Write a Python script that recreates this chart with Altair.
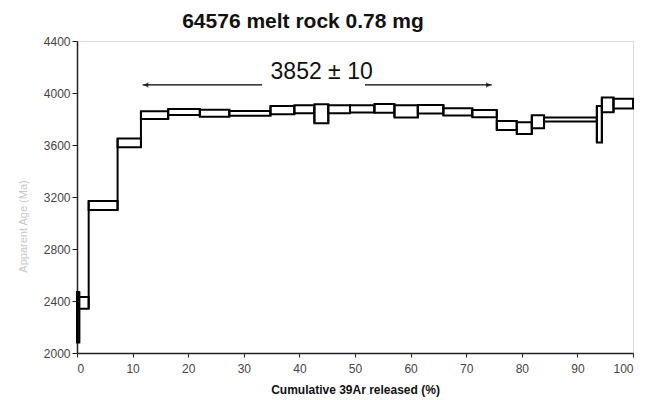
import altair as alt
import pandas as pd

# Step boundaries (cumulative % 39Ar released)
bounds = [0, 0.4, 2.1, 7.3, 11.5, 16.4, 22.1, 27.4, 34.8, 39.1, 42.7, 45.2, 49.1,
          53.5, 57.1, 61.3, 65.9, 71.1, 75.5, 79.1, 81.8, 84.0, 93.5, 94.4, 96.5, 100]
# Age box lower / upper limits (Ma)
age_lo = [2080, 2340, 3100, 3582, 3800, 3830, 3818, 3825, 3836, 3845, 3767, 3845, 3850,
          3848, 3812, 3842, 3826, 3813, 3715, 3685, 3728, 3780, 3620, 3852, 3880]
age_hi = [2470, 2430, 3170, 3650, 3860, 3877, 3872, 3862, 3900, 3905, 3913, 3905, 3905,
          3915, 3905, 3908, 3882, 3869, 3785, 3775, 3828, 3812, 3900, 3965, 3955]

plateau_label = "3852 ± 10"
arrow_left = [11.8, 33.3]
arrow_right = [51.8, 74.6]
arrow_age = 4062
label_x, label_age = 44.0, 4164

steps = pd.DataFrame({
    "x": bounds[:-1], "x2": bounds[1:], "lo": age_lo, "hi": age_hi,
})
conn = pd.DataFrame({
    "x": bounds[1:-1],
    "lo": [min(age_lo[i], age_lo[i + 1]) for i in range(len(age_lo) - 1)],
    "hi": [max(age_hi[i], age_hi[i + 1]) for i in range(len(age_hi) - 1)],
})

xs = alt.Scale(domain=[0, 100], nice=False)
ys = alt.Scale(domain=[2000, 4400], nice=False)

xaxis = alt.Axis(values=list(range(0, 101, 10)), format="d", grid=False,
                 title="Cumulative 39Ar released (%)",
                 labelFont="Liberation Sans", labelFontSize=12, labelColor="#444",
                 titleFont="Liberation Sans", titleFontSize=12, titleFontWeight="bold",
                 titleColor="#111", titlePadding=10, domainColor="#222", domainWidth=1.5,
                 tickColor="#222", tickSize=4, labelPadding=6)
yaxis = alt.Axis(values=list(range(2000, 4401, 400)), format="d", grid=False,
                 title="Apparent Age (Ma)",
                 labelFont="Liberation Sans", labelFontSize=12, labelColor="#444",
                 titleFont="Liberation Sans", titleFontSize=11, titleFontWeight="normal",
                 titleColor="#c8c8c8", titleX=-54, titleY=185, titleAlign="center",
                 titleBaseline="middle", domainColor="#222", domainWidth=1.5,
                 tickColor="#222", tickSize=5, labelPadding=2)

rects = alt.Chart(steps).mark_rect(fill="white", stroke="black", strokeWidth=2).encode(
    x=alt.X("x:Q", scale=xs, axis=xaxis), x2="x2:Q",
    y=alt.Y("lo:Q", scale=ys, axis=yaxis), y2="hi:Q",
)
connectors = alt.Chart(conn).mark_rule(color="black", strokeWidth=2).encode(
    x=alt.X("x:Q", scale=xs), y=alt.Y("lo:Q", scale=ys), y2="hi:Q",
)

arrows = pd.DataFrame({
    "x": [arrow_left[1], arrow_right[0]], "x2": [arrow_left[0], arrow_right[1]],
    "y": [arrow_age, arrow_age],
})
arrow_lines = alt.Chart(arrows).mark_rule(color="black", strokeWidth=1.2).encode(
    x=alt.X("x:Q", scale=xs), x2="x2:Q", y=alt.Y("y:Q", scale=ys),
)
heads = pd.DataFrame({
    "x": [arrow_left[0] + 0.6, arrow_right[1] - 0.6], "y": [arrow_age, arrow_age],
    "shape": ["triangle-left", "triangle-right"],
})
arrow_heads = alt.Chart(heads).mark_point(filled=True, color="black", size=30).encode(
    x=alt.X("x:Q", scale=xs), y=alt.Y("y:Q", scale=ys),
    shape=alt.Shape("shape:N", scale=None),
)
label = alt.Chart(pd.DataFrame({"x": [label_x], "y": [label_age], "t": [plateau_label]})).mark_text(
    font="Liberation Sans", fontSize=23, color="#111", align="center", baseline="middle"
).encode(x=alt.X("x:Q", scale=xs), y=alt.Y("y:Q", scale=ys), text="t:N")

chart = alt.layer(rects, connectors, arrow_lines, arrow_heads, label).properties(
    width=556, height=312,
    autosize=alt.AutoSizeParams(type="none"),
    padding={"left": 69, "top": 33, "right": 7, "bottom": 46},
    title=alt.TitleParams("64576 melt rock 0.78 mg", font="Liberation Sans", fontSize=21,
                          fontWeight="bold", color="#111", anchor="middle", dx=-52, offset=3),
).configure_view(stroke="#999", strokeWidth=1, strokeDash=[2, 2]).configure(background="white")

chart.save("out.html", embed_options={"renderer": "svg", "actions": False})
